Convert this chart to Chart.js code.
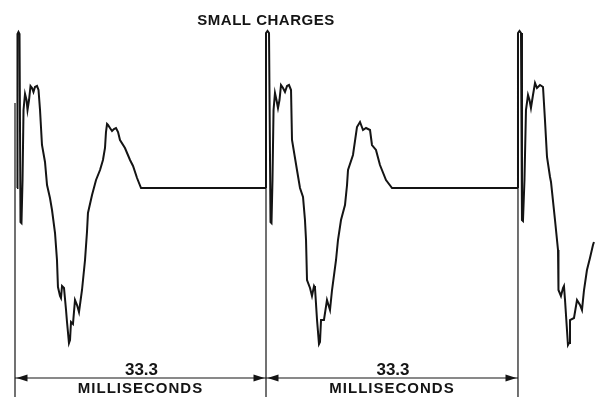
<!DOCTYPE html>
<html>
<head>
<meta charset="utf-8">
<script src="https://cdn.jsdelivr.net/npm/chart.js@4/dist/chart.umd.min.js"></script>
<style>
  html, body { margin: 0; padding: 0; background: #fff; }
  #wrap { width: 596px; height: 397px; }
</style>
</head>
<body>
<div id="wrap"><canvas id="c" width="596" height="397"></canvas></div>
<script>
// ---- data (time in ms, deflection in arbitrary units, baseline = 0) ----
const titleText = "SMALL CHARGES";
const periodLabel = "33.3";
const unitLabel = "MILLISECONDS";
const sweepMarks = [0, 33.3, 66.73];
const markTops = [85, 155, 155];

const t1 = [0.27,0.33,0.46,0.60,0.73,0.86,1.00,1.13,1.33,1.53,1.66,1.86,2.06,2.26,2.45,2.65,2.92,3.12,3.32,3.58,3.98,4.25,4.64,4.91,5.31,5.57,5.70,5.97,6.10,6.24,6.50,6.77,6.90,7.16,7.30,7.43,7.69,7.96,8.23,8.49,8.89,9.29,9.55,9.68,10.22,10.75,11.28,11.67,11.94,12.07,12.21,12.34,12.60,12.87,13.13,13.40,13.67,13.93,14.59,15.26,15.66,16.19,16.72,33.30];
const a1 = [0,154,156,154,-34,-35,8,78,94,88,78,88,102,100,96,101,102,98,78,43,26,3,-10,-22,-45,-72,-99,-108,-110,-98,-100,-122,-134,-155,-152,-134,-136,-112,-117,-124,-102,-72,-44,-25,-7,8,18,28,40,56,64,63,60,57,59,60,56,48,40,28,22,10,0,0];

const t2 = [33.30,33.30,33.50,33.70,33.90,34.03,34.16,34.30,34.49,34.69,34.89,35.09,35.29,35.56,35.82,36.09,36.35,36.62,36.75,37.41,37.81,38.21,38.47,38.61,38.74,39.14,39.40,39.67,39.80,40.07,40.33,40.46,40.60,40.99,41.39,41.79,42.06,42.59,42.85,43.25,43.78,44.05,44.18,44.84,45.37,45.77,46.17,46.57,47.10,47.36,47.89,48.42,49.22,50.02,66.73];
const a2 = [0,155,157,155,-34,-35,8,78,95,88,80,88,103,100,96,102,103,98,48,18,0,-9,-32,-52,-92,-100,-108,-98,-100,-132,-156,-154,-132,-132,-112,-122,-102,-72,-52,-32,-17,3,18,33,61,66,58,60,58,43,38,23,8,0,0];

const t3 = [66.73,66.73,66.93,67.13,67.26,67.39,67.59,67.79,68.06,68.26,68.45,68.72,68.99,69.25,69.65,70.05,70.31,70.58,70.98,71.11,71.64,72.04,72.10,72.43,72.70,72.83,72.97,73.23,73.36,73.50,73.63,74.16,74.56,74.96,75.22,75.49,75.88,76.28,76.68,76.81];
const a3 = [0,155,157,155,-32,-33,8,78,93,88,80,93,105,100,103,101,68,31,11,6,-32,-62,-102,-108,-100,-98,-112,-142,-157,-155,-132,-130,-112,-117,-122,-102,-82,-70,-57,-54];

// ---- build ----
const ink = "#141414";
const pts = (t, a) => t.map((x, i) => ({ x: x, y: a[i] }));
const traceStyle = { showLine: true, pointRadius: 0, borderColor: ink, borderWidth: 2, tension: 0, fill: false };
const datasets = [
  Object.assign({ data: pts(t1, a1) }, traceStyle),
  Object.assign({ data: pts(t2, a2) }, traceStyle),
  Object.assign({ data: pts(t3, a3) }, traceStyle)
];
sweepMarks.forEach((m, i) => {
  datasets.push({ data: [{ x: m, y: markTops[i] }, { x: m, y: -209 }], showLine: true, pointRadius: 0, borderColor: ink, borderWidth: 1.2, tension: 0 });
});
const dimLevel = -190;
for (let i = 0; i < sweepMarks.length - 1; i++) {
  datasets.push({ data: [{ x: sweepMarks[i], y: dimLevel }, { x: sweepMarks[i + 1], y: dimLevel }], showLine: true, pointRadius: 0, borderColor: ink, borderWidth: 1.2, tension: 0 });
}

const annot = {
  id: 'annot',
  afterDatasetsDraw(chart) {
    const ctx = chart.ctx, xs = chart.scales.x, ys = chart.scales.y;
    ctx.save();
    ctx.fillStyle = ink;
    const yDim = ys.getPixelForValue(dimLevel);
    for (let i = 0; i < sweepMarks.length - 1; i++) {
      const xa = xs.getPixelForValue(sweepMarks[i]) + 1.5;
      const xb = xs.getPixelForValue(sweepMarks[i + 1]) - 1.5;
      ctx.beginPath(); ctx.moveTo(xa, yDim); ctx.lineTo(xa + 11, yDim - 3.5); ctx.lineTo(xa + 11, yDim + 3.5); ctx.closePath(); ctx.fill();
      ctx.beginPath(); ctx.moveTo(xb, yDim); ctx.lineTo(xb - 11, yDim - 3.5); ctx.lineTo(xb - 11, yDim + 3.5); ctx.closePath(); ctx.fill();
      const xc = (xs.getPixelForValue(sweepMarks[i]) + xs.getPixelForValue(sweepMarks[i + 1])) / 2;
      ctx.textAlign = 'center';
      ctx.textBaseline = 'alphabetic';
      ctx.font = 'bold 17px "Liberation Sans", Arial, sans-serif';
      ctx.fillText(periodLabel, xc + 1, ys.getPixelForValue(-187));
      ctx.font = 'bold 15px "Liberation Sans", Arial, sans-serif';
      if ('letterSpacing' in ctx) ctx.letterSpacing = '1px';
      ctx.fillText(unitLabel, xc, ys.getPixelForValue(-205));
      if ('letterSpacing' in ctx) ctx.letterSpacing = '0px';
    }
    ctx.font = 'bold 15px "Liberation Sans", Arial, sans-serif';
    if ('letterSpacing' in ctx) ctx.letterSpacing = '0.5px';
    ctx.textAlign = 'center';
    ctx.fillText(titleText, xs.getPixelForValue(sweepMarks[1]), ys.getPixelForValue(163));
    ctx.restore();
  }
};

new Chart(document.getElementById('c'), {
  type: 'scatter',
  data: { datasets: datasets },
  options: {
    responsive: false,
    devicePixelRatio: 1,
    animation: false,
    layout: { padding: 0 },
    plugins: { legend: { display: false }, tooltip: { enabled: false }, title: { display: false } },
    scales: {
      x: { type: 'linear', min: -1.99, max: 77.08, display: false },
      y: { type: 'linear', min: -209, max: 188, display: false }
    }
  },
  plugins: [annot]
});
</script>
</body>
</html>
